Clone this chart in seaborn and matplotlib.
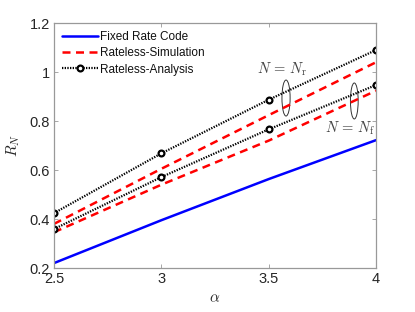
import matplotlib
matplotlib.use("Agg")
import matplotlib.pyplot as plt
import seaborn as sns
import pandas as pd
from matplotlib.patches import Ellipse

alpha = [2.5, 3.0, 3.5, 4.0]
fixed_rate = [0.22, 0.395, 0.563, 0.722]
sim_nr = [0.38, 0.605, 0.824, 1.04]
sim_nf = [0.346, 0.54, 0.72, 0.924]
ana_nr = [0.424, 0.668, 0.887, 1.09]
ana_nf = [0.359, 0.571, 0.766, 0.947]

sns.set_theme(style="white")
plt.rcParams['font.family'] = ['Liberation Sans', 'DejaVu Sans']
plt.rcParams['mathtext.fontset'] = 'cm'

fig = plt.figure(figsize=(4.15, 3.12), dpi=100)
ax = fig.add_axes([0.130, 0.141, 0.776, 0.785])

df_fixed = pd.DataFrame({"alpha": alpha, "R": fixed_rate})
sns.lineplot(data=df_fixed, x="alpha", y="R", ax=ax, color="#0000ff", lw=1.8,
             label="Fixed Rate Code")
for i, s in enumerate([sim_nr, sim_nf]):
    d = pd.DataFrame({"alpha": alpha, "R": s})
    sns.lineplot(data=d, x="alpha", y="R", ax=ax, color="#ff0000", lw=1.8,
                 dashes=False, label="Rateless-Simulation" if i == 0 else None,
                 linestyle=(0, (3.2, 2.2)))
for i, s in enumerate([ana_nr, ana_nf]):
    d = pd.DataFrame({"alpha": alpha, "R": s})
    sns.lineplot(data=d, x="alpha", y="R", ax=ax, color="black", lw=1.6,
                 linestyle=(0, (0.6, 0.6)), marker="o", markersize=4.2,
                 markerfacecolor="white", markeredgecolor="black", markeredgewidth=1.6,
                 label="Rateless-Analysis" if i == 0 else None)

ax.set_xlim(2.5, 4)
ax.set_ylim(0.2, 1.2)
ax.set_xticks([2.5, 3, 3.5, 4])
ax.set_xticklabels(["2.5", "3", "3.5", "4"])
ax.set_yticks([0.2, 0.4, 0.6, 0.8, 1.0, 1.2])
ax.set_yticklabels(["0.2", "0.4", "0.6", "0.8", "1", "1.2"])
ax.tick_params(direction="in", length=3, width=0.6, colors="#999999",
               labelcolor="#262626", labelsize=10.5, top=True, right=True,
               bottom=True, left=True, pad=3)
for sp in ax.spines.values():
    sp.set_color("#999999")
    sp.set_linewidth(0.9)

ax.set_xlabel(r"$\alpha$", fontsize=11, color="#262626", labelpad=4)
ax.set_ylabel(r"$R_N$", fontsize=11, color="#262626", labelpad=5)

ax.add_patch(Ellipse((3.581, 0.894), 0.038, 0.147, fill=False, ec="#333333", lw=0.7))
ax.add_patch(Ellipse((3.899, 0.882), 0.036, 0.147, fill=False, ec="#333333", lw=0.7))
ax.text(3.56, 1.011, r"$N\,=\,N_{\rm r}$", ha="center", va="center", fontsize=10.5, color="#444444")
ax.text(3.879, 0.770, r"$N\,=\,N_{\rm f}$", ha="center", va="center", fontsize=10.5, color="#444444")

leg = ax.legend(loc="upper left", frameon=False, fontsize=8.5, handlelength=3.0,
                handletextpad=0.2, labelspacing=0.35, borderaxespad=0.3,
                bbox_to_anchor=(0.0, 1.0))
for t in leg.get_texts():
    t.set_color("#111111")

fig.savefig("out.png", dpi=100)
